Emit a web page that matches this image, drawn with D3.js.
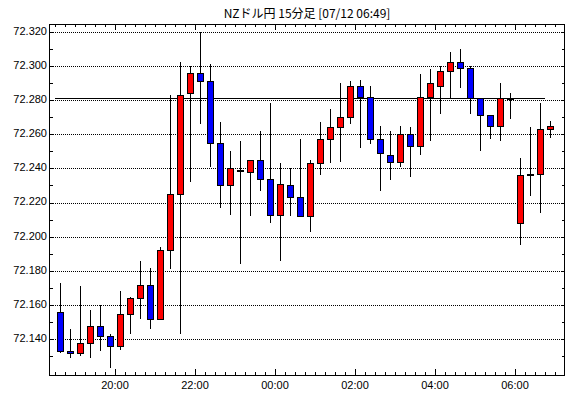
<!DOCTYPE html>
<html>
<head>
<meta charset="utf-8">
<script src="https://cdn.jsdelivr.net/npm/d3@7"></script>
<style>
  html, body { margin: 0; padding: 0; background: #fff; }
  svg { display: block; }
</style>
</head>
<body>
<svg id="chart" width="570" height="398"></svg>
<script>
// NOTE: chart data (15 min bars, 07/11 18:30 -> 07/12 06:45)
const times = [
  '18:30', '18:45', '19:00', '19:15', '19:30', '19:45', '20:00', '20:15', '20:30', '20:45',
  '21:00', '21:15', '21:30', '21:45', '22:00', '22:15', '22:30', '22:45', '23:00', '23:15',
  '23:30', '23:45', '00:00', '00:15', '00:30', '00:45', '01:00', '01:15', '01:30', '01:45',
  '02:00', '02:15', '02:30', '02:45', '03:00', '03:15', '03:30', '03:45', '04:00', '04:15',
  '04:30', '04:45', '05:00', '05:15', '05:30', '05:45', '06:00', '06:15', '06:30', '06:45',
]
const opens = [
  72.156, 72.133, 72.132, 72.138, 72.148, 72.142, 72.136, 72.155, 72.164, 72.172,
  72.152, 72.192, 72.225, 72.284, 72.296, 72.291, 72.255, 72.230, 72.239, 72.238,
  72.245, 72.234, 72.213, 72.230, 72.223, 72.212, 72.243, 72.257, 72.264, 72.270,
  72.288, 72.282, 72.257, 72.248, 72.244, 72.260, 72.253, 72.282, 72.288, 72.297,
  72.302, 72.299, 72.281, 72.271, 72.265, 72.281, 72.208, 72.236, 72.237, 72.263,
]
const highs = [
  72.173, 72.146, 72.171, 72.157, 72.160, 72.143, 72.168, 72.165, 72.186, 72.182,
  72.194, 72.283, 72.302, 72.300, 72.320, 72.301, 72.267, 72.250, 72.256, 72.245,
  72.262, 72.278, 72.243, 72.240, 72.257, 72.245, 72.267, 72.275, 72.290, 72.291,
  72.292, 72.288, 72.265, 72.262, 72.265, 72.264, 72.295, 72.298, 72.300, 72.308,
  72.310, 72.300, 72.281, 72.271, 72.290, 72.284, 72.246, 72.264, 72.278, 72.268,
]
const lows = [
  72.132, 72.129, 72.130, 72.129, 72.133, 72.123, 72.134, 72.143, 72.152, 72.146,
  72.152, 72.181, 72.143, 72.232, 72.266, 72.241, 72.217, 72.213, 72.184, 72.212,
  72.227, 72.208, 72.186, 72.212, 72.212, 72.203, 72.236, 72.243, 72.244, 72.266,
  72.252, 72.254, 72.227, 72.233, 72.241, 72.235, 72.248, 72.256, 72.272, 72.281,
  72.287, 72.272, 72.250, 72.257, 72.256, 72.269, 72.195, 72.224, 72.214, 72.258,
]
const closes = [
  72.133, 72.132, 72.138, 72.148, 72.142, 72.136, 72.155, 72.164, 72.172, 72.152,
  72.192, 72.225, 72.283, 72.296, 72.291, 72.255, 72.230, 72.240, 72.239, 72.245,
  72.234, 72.213, 72.231, 72.223, 72.212, 72.243, 72.257, 72.264, 72.270, 72.288,
  72.282, 72.257, 72.249, 72.244, 72.260, 72.253, 72.282, 72.290, 72.297, 72.302,
  72.299, 72.281, 72.271, 72.265, 72.281, 72.281, 72.236, 72.237, 72.263, 72.265,
]
const yTicks = [72.140, 72.160, 72.180, 72.200, 72.220, 72.240, 72.260, 72.280, 72.300, 72.320]
const refPrice = 72.281
const title = 'NZドル円 15分足 [07/12 06:49]'

// NOTE: turn "HH:MM" into a date (bars before 12:00 belong to the next day)
const toDate = (s) => {
  const [h, m] = s.split(':').map(Number)
  return new Date(2018, 6, h < 12 ? 12 : 11, h, m)
}
const bars = times.map((t, i) => ({
  t: toDate(t), o: opens[i], h: highs[i], l: lows[i], c: closes[i],
}))

const plotLeft = 49
const plotRight = 565
const plotTop = 24
const plotBottom = 375

const svg = d3.select('#chart')

// NOTE: scales
const x = d3.scaleTime()
  .domain([new Date(2018, 6, 11, 18, 21), new Date(2018, 6, 12, 7, 15)])
  .range([plotLeft, plotRight])
const y = d3.scaleLinear()
  .domain([72.1191, 72.3245])
  .range([plotBottom, plotTop])

const px = (v) => Math.round(v) + 0.5

// NOTE: title
svg.append('text')
  .attr('x', (plotLeft + plotRight) / 2)
  .attr('y', 15)
  .attr('text-anchor', 'middle')
  .attr('dominant-baseline', 'middle')
  .style('font-family', '"Noto Sans CJK JP", sans-serif')
  .style('font-size', '12px')
  .text(title)

// NOTE: dotted grid lines
svg.append('g')
  .selectAll('line')
  .data(yTicks)
  .join('line')
  .attr('x1', plotLeft)
  .attr('x2', plotRight)
  .attr('y1', (d) => px(y(d)))
  .attr('y2', (d) => px(y(d)))
  .attr('stroke', '#000')
  .attr('stroke-dasharray', '1,1')
  .attr('shape-rendering', 'crispEdges')

// NOTE: y labels
svg.append('g')
  .selectAll('text')
  .data(yTicks)
  .join('text')
  .attr('x', plotLeft - 2)
  .attr('y', (d) => y(d))
  .attr('text-anchor', 'end')
  .attr('dominant-baseline', 'middle')
  .style('font-family', '"Liberation Sans", sans-serif')
  .style('font-size', '11px')
  .text((d) => d3.format('.3f')(d))

// NOTE: y ticks on both sides, every 0.010
const yMinor = d3.range(72.130, 72.3201, 0.010)
const yTickG = svg.append('g')
  .attr('stroke', '#000')
  .attr('shape-rendering', 'crispEdges')
yTickG.selectAll('line.l')
  .data(yMinor)
  .join('line')
  .attr('class', 'l')
  .attr('x1', plotLeft)
  .attr('x2', plotLeft + 4)
  .attr('y1', (d) => px(y(d)))
  .attr('y2', (d) => px(y(d)))
yTickG.selectAll('line.r')
  .data(yMinor)
  .join('line')
  .attr('class', 'r')
  .attr('x1', plotRight - 3)
  .attr('x2', plotRight)
  .attr('y1', (d) => px(y(d)))
  .attr('y2', (d) => px(y(d)))

// NOTE: x ticks, minor every 15 min, major every 2 hours
const xMinor = d3.timeMinute.every(15).range(...x.domain())
const xMajor = d3.timeHour.every(2).range(...x.domain())
const xTickG = svg.append('g')
  .attr('stroke', '#000')
  .attr('shape-rendering', 'crispEdges')
const tickLen = (d) => (d.getMinutes() === 0 && d.getHours() % 2 === 0 ? 6 : 3)
xTickG.selectAll('line.b')
  .data(xMinor)
  .join('line')
  .attr('class', 'b')
  .attr('x1', (d) => px(x(d)))
  .attr('x2', (d) => px(x(d)))
  .attr('y1', plotBottom)
  .attr('y2', (d) => plotBottom - tickLen(d))
xTickG.selectAll('line.t')
  .data(xMinor)
  .join('line')
  .attr('class', 't')
  .attr('x1', (d) => px(x(d)))
  .attr('x2', (d) => px(x(d)))
  .attr('y1', plotTop)
  .attr('y2', (d) => plotTop + tickLen(d))

// NOTE: x labels
svg.append('g')
  .selectAll('text')
  .data(xMajor)
  .join('text')
  .attr('x', (d) => x(d))
  .attr('y', 386)
  .attr('text-anchor', 'middle')
  .attr('dominant-baseline', 'middle')
  .style('font-family', '"Liberation Sans", sans-serif')
  .style('font-size', '11px')
  .text(d3.timeFormat('%H:%M'))

// NOTE: reference price line
svg.append('line')
  .attr('x1', x(bars[0].t))
  .attr('x2', x(bars[bars.length - 1].t))
  .attr('y1', px(y(refPrice)))
  .attr('y2', px(y(refPrice)))
  .attr('stroke', '#000')
  .attr('stroke-width', 1)
  .attr('shape-rendering', 'crispEdges')

// NOTE: candles
const cx = (d) => Math.round(x(d.t) + 5) + 0.5
const candle = svg.append('g')
  .selectAll('g')
  .data(bars)
  .join('g')

candle.append('line')
  .attr('x1', cx)
  .attr('x2', cx)
  .attr('y1', (d) => y(d.h))
  .attr('y2', (d) => y(d.l))
  .attr('stroke', '#000')
  .attr('shape-rendering', 'crispEdges')

candle.append('rect')
  .attr('x', (d) => cx(d) - 3)
  .attr('width', 6)
  .attr('y', (d) => Math.round(y(Math.max(d.o, d.c))) + 0.5)
  .attr('height', (d) => Math.max(1, Math.round(y(Math.min(d.o, d.c))) - Math.round(y(Math.max(d.o, d.c)))))
  .attr('fill', (d) => (d.c >= d.o ? '#ff0000' : '#0000ff'))
  .attr('stroke', '#000')
  .attr('shape-rendering', 'crispEdges')

// NOTE: frame
svg.append('rect')
  .attr('x', plotLeft + 0.5)
  .attr('y', plotTop + 0.5)
  .attr('width', plotRight - plotLeft - 1)
  .attr('height', plotBottom - plotTop)
  .attr('fill', 'none')
  .attr('stroke', '#000')
  .attr('stroke-width', 1)
  .attr('shape-rendering', 'crispEdges')
</script>
</body>
</html>
